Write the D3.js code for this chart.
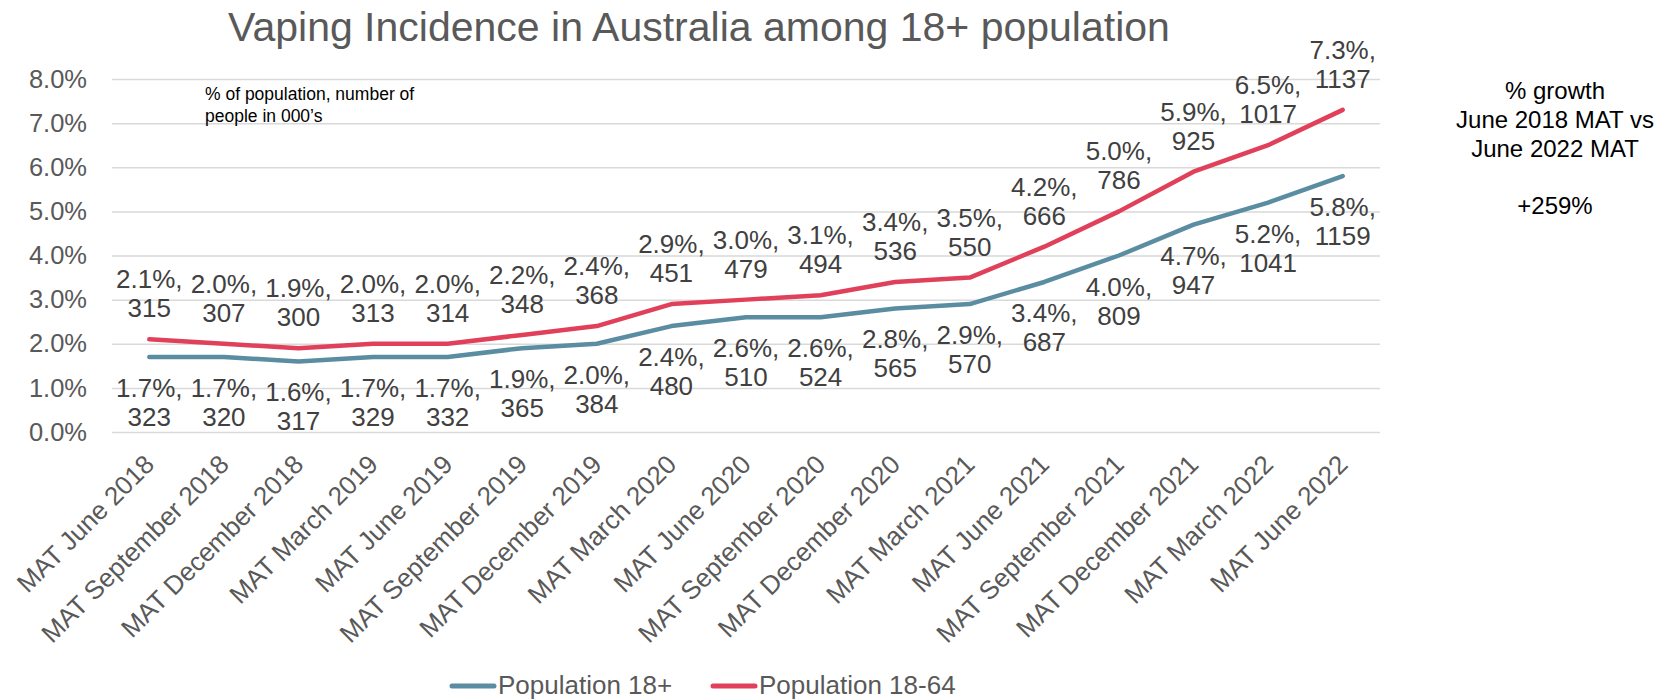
<!DOCTYPE html>
<html>
<head>
<meta charset="utf-8">
<script src="https://cdn.jsdelivr.net/npm/d3@7"></script>
<style>
  html, body { margin: 0; padding: 0; background: #fff; }
  svg { display: block; font-family: "Liberation Sans", Arial, sans-serif; }
</style>
</head>
<body>
<svg id="chart" width="1680" height="700"></svg>
<script>
const categories = [
  "MAT June 2018", "MAT September 2018", "MAT December 2018", "MAT March 2019",
  "MAT June 2019", "MAT September 2019", "MAT December 2019", "MAT March 2020",
  "MAT June 2020", "MAT September 2020", "MAT December 2020", "MAT March 2021",
  "MAT June 2021", "MAT September 2021", "MAT December 2021", "MAT March 2022",
  "MAT June 2022"
];
const pop18plusPct = [1.7, 1.7, 1.6, 1.7, 1.7, 1.9, 2.0, 2.4, 2.6, 2.6, 2.8, 2.9, 3.4, 4.0, 4.7, 5.2, 5.8];
const pop18plusCount = [323, 320, 317, 329, 332, 365, 384, 480, 510, 524, 565, 570, 687, 809, 947, 1041, 1159];
const pop1864Pct = [2.1, 2.0, 1.9, 2.0, 2.0, 2.2, 2.4, 2.9, 3.0, 3.1, 3.4, 3.5, 4.2, 5.0, 5.9, 6.5, 7.3];
const pop1864Count = [315, 307, 300, 313, 314, 348, 368, 451, 479, 494, 536, 550, 666, 786, 925, 1017, 1137];
const yTicks = [0, 1, 2, 3, 4, 5, 6, 7, 8];
const seriesNames = ["Population 18+", "Population 18-64"];
const titleText = "Vaping Incidence in Australia among 18+ population";
const noteLines = ["% of population, number of", "people in 000\u2019s"];
const growthLines = ["% growth", "June 2018 MAT vs", "June 2022 MAT", "", "+259%"];

const colors = ["#5A8DA2", "#E1405A"];
const svg = d3.select("#chart");

const plot = { left: 112, right: 1380, top: 79, bottom: 432 };
const x = d3.scalePoint().domain(categories).range([plot.left, plot.right]).padding(0.5);
const y = d3.scaleLinear().domain([0, 8]).range([plot.bottom, plot.top]);

// Title
svg.append("text")
  .attr("x", 699).attr("y", 41)
  .attr("text-anchor", "middle")
  .attr("font-size", 41)
  .attr("fill", "#595959")
  .text(titleText);

// Y axis with gridlines
const yAxis = svg.append("g")
  .attr("transform", `translate(${plot.left},0)`)
  .call(d3.axisLeft(y).tickValues(yTicks)
    .tickFormat(d => d.toFixed(1) + "%")
    .tickSize(-(plot.right - plot.left))
    .tickPadding(25));
yAxis.select(".domain").remove();
yAxis.selectAll(".tick line").attr("stroke", "#D9D9D9").attr("stroke-width", 1.5);
yAxis.selectAll(".tick text").attr("font-size", 25.5).attr("fill", "#595959")
  .attr("font-family", "Liberation Sans, Arial, sans-serif");

// X axis
const xAxis = svg.append("g")
  .attr("transform", `translate(0,${plot.bottom})`)
  .call(d3.axisBottom(x).tickSize(0));
xAxis.select(".domain").remove();
xAxis.selectAll(".tick text")
  .attr("font-size", 26).attr("fill", "#595959")
  .attr("font-family", "Liberation Sans, Arial, sans-serif")
  .attr("text-anchor", "end")
  .attr("x", 0).attr("y", 0).attr("dy", null)
  .attr("transform", "translate(6,34) rotate(-45)");

// Lines
const series = [
  { name: seriesNames[0], pct: pop18plusPct, count: pop18plusCount, color: colors[0], above: false },
  { name: seriesNames[1], pct: pop1864Pct, count: pop1864Count, color: colors[1], above: true }
];
const line = d3.line().x((d, i) => x(categories[i])).y(d => y(d));

series.forEach(s => {
  svg.append("path")
    .datum(s.pct)
    .attr("d", line)
    .attr("fill", "none")
    .attr("stroke", s.color)
    .attr("stroke-width", 4.5)
    .attr("stroke-linejoin", "round")
    .attr("stroke-linecap", "round");
});

// Data labels
series.forEach(s => {
  const g = svg.append("g");
  s.pct.forEach((v, i) => {
    const cx = x(categories[i]);
    const cy = y(v);
    const b1 = s.above ? cy - 51 : cy + 40;
    const t = g.append("text")
      .attr("text-anchor", "middle")
      .attr("font-size", 26)
      .attr("fill", "#404040");
    t.append("tspan").attr("x", cx).attr("y", b1).text(v.toFixed(1) + "%,");
    t.append("tspan").attr("x", cx).attr("y", b1 + 29).text(s.count[i]);
  });
});

// Note
const note = svg.append("text").attr("font-size", 17.5).attr("fill", "#000");
noteLines.forEach((l, i) => {
  note.append("tspan").attr("x", 205).attr("y", 100 + i * 21.5).text(l);
});

// Growth annotation
const ann = svg.append("text").attr("font-size", 24).attr("fill", "#000").attr("text-anchor", "middle");
growthLines.forEach((l, i) => {
  if (l) ann.append("tspan").attr("x", 1555).attr("y", 99 + i * 28.8).text(l);
});

// Legend
const legendStarts = [450, 711];
series.forEach((s, i) => {
  const lx = legendStarts[i];
  svg.append("line")
    .attr("x1", lx + 2).attr("x2", lx + 44)
    .attr("y1", 686).attr("y2", 686)
    .attr("stroke", s.color).attr("stroke-width", 5)
    .attr("stroke-linecap", "round");
  svg.append("text")
    .attr("x", lx + 48).attr("y", 694)
    .attr("font-size", 26).attr("fill", "#595959")
    .text(s.name);
});
</script>
</body>
</html>
